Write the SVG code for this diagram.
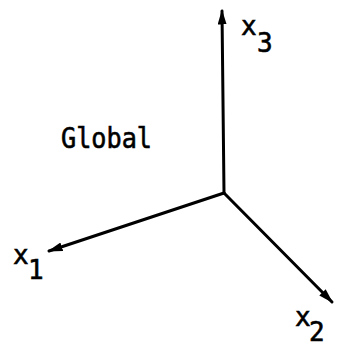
<svg xmlns="http://www.w3.org/2000/svg" width="340" height="346" viewBox="0 0 340 346">
<style>
.ax{stroke:#000;stroke-width:3;fill:none;stroke-linecap:round}
.t{font-family:"DejaVu Sans Mono","Liberation Mono",monospace;fill:#000;stroke:#000;stroke-width:0.6}
.v{font-size:26px}
.s{font-size:26px}
</style>
<defs>
<marker id="ah" viewBox="0 0 10 6" refX="9" refY="3" markerWidth="5" markerHeight="3" markerUnits="strokeWidth" orient="auto">
<path d="M0,0 L10,3 L0,6 Z" fill="#000"/>
</marker>
</defs>
<rect width="340" height="346" fill="#fff"/>
<g id="connectors">
<line class="ax" x1="224" y1="193" x2="222" y2="11" marker-end="url(#ah)"/>
<line class="ax" x1="224" y1="193" x2="49" y2="251" marker-end="url(#ah)"/>
<line class="ax" x1="224" y1="193" x2="332" y2="302" marker-end="url(#ah)"/>
</g>
<g id="label-x3"><text class="t v" x="241" y="35">x</text><text class="t s" x="257" y="52">3</text></g>
<g id="label-x1"><text class="t v" x="13" y="264">x</text><text class="t s" x="28" y="279">1</text></g>
<g id="label-x2"><text class="t v" x="295" y="326">x</text><text class="t s" x="309" y="341">2</text></g>
<g id="label-global"><text class="t" x="61" y="148" font-size="28" textLength="91" lengthAdjust="spacingAndGlyphs">Global</text></g>
</svg>
